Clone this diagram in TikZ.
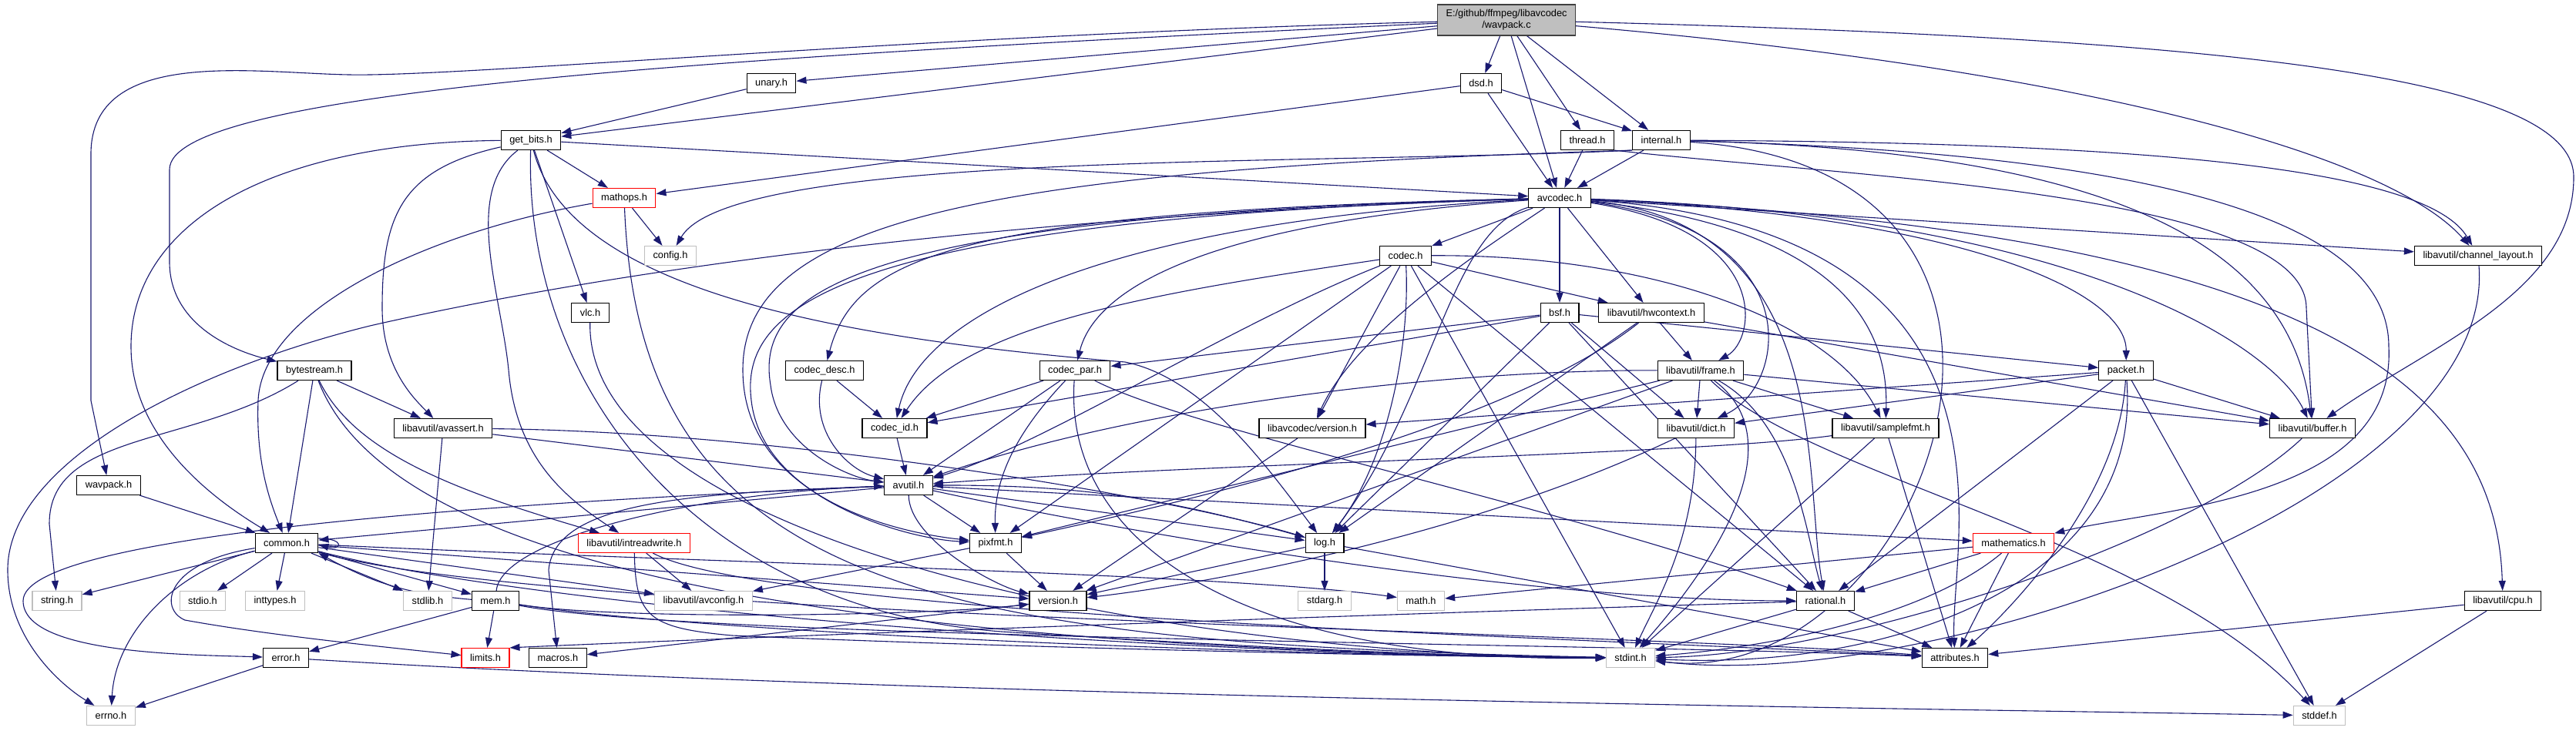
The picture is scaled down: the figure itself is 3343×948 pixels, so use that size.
\documentclass[tikz,border=0pt]{standalone}
\usepackage{fontspec}
\newfontfamily\dxfont{Liberation Sans}
\usetikzlibrary{arrows.meta}
\usetikzlibrary{backgrounds}
\definecolor{edgeblue}{HTML}{191970}
\definecolor{sysline}{HTML}{BFBFBF}
\definecolor{mainfill}{HTML}{BFBFBF}
\definecolor{mainline}{HTML}{404040}

\begin{document}
\begin{tikzpicture}[
    x=1pt, y=-1pt,
    hdr/.style={draw=black, line width=1.2pt, fill=white, font=\dxfont\fontsize{12.8}{15}\selectfont,
                minimum height=25pt, inner xsep=11pt, inner ysep=0pt},
    trunc/.style={hdr, draw=red},
    sys/.style={hdr, draw=sysline},
    srcfile/.style={hdr, fill=mainfill, draw=mainline, align=center, minimum height=40pt},
    dep/.style={draw=edgeblue, line width=1.1pt, -{Triangle[length=13pt, width=9pt]}}
]

\useasboundingbox (0,0) rectangle (3343,948);

% --- Source file ---
\node[srcfile] (wavpackc) at (1955,26) {E:/github/ffmpeg/libavcodec\\/wavpack.c};

% --- Level 1 to 3 ---
\node[hdr] (unary) at (1001,108) {unary.h};
\node[hdr] (dsd) at (1922,108) {dsd.h};
\node[hdr] (getbits) at (689,182) {get\_bits.h};
\node[hdr] (thread) at (2060,182) {thread.h};
\node[hdr] (internal) at (2156,182) {internal.h};
\node[trunc] (mathops) at (810,257) {mathops.h};
\node[hdr] (avcodec) at (2024,257) {avcodec.h};

% --- Level 4 to 6 ---
\node[sys] (config) at (870,332) {config.h};
\node[hdr] (codec) at (1824,332) {codec.h};
\node[hdr] (chlayout) at (3216,332) {libavutil/channel\_layout.h};
\node[hdr] (vlc) at (766,406) {vlc.h};
\node[hdr] (bsf) at (2024,406) {bsf.h};
\node[hdr] (hwcontext) at (2143,406) {libavutil/hwcontext.h};
\node[hdr] (bytestream) at (408,481) {bytestream.h};
\node[hdr] (codecdesc) at (1070,481) {codec\_desc.h};
\node[hdr] (codecpar) at (1395,481) {codec\_par.h};
\node[hdr] (frame) at (2207,481) {libavutil/frame.h};
\node[hdr] (packet) at (2759,481) {packet.h};

% --- Level 7 to 8 ---
\node[hdr] (avassert) at (575,556) {libavutil/avassert.h};
\node[hdr] (codecid) at (1161,556) {codec\_id.h};
\node[hdr] (lavcversion) at (1703,556) {libavcodec/version.h};
\node[hdr] (dict) at (2201,556) {libavutil/dict.h};
\node[hdr] (samplefmt) at (2447,556) {libavutil/samplefmt.h};
\node[hdr] (buffer) at (3001,556) {libavutil/buffer.h};
\node[hdr] (wavpackh) at (141,630) {wavpack.h};
\node[hdr] (avutil) at (1179,630) {avutil.h};

% --- Level 9 ---
\node[hdr] (common) at (372,705) {common.h};
\node[trunc] (intreadwrite) at (823,705) {libavutil/intreadwrite.h};
\node[hdr] (pixfmt) at (1292,705) {pixfmt.h};
\node[hdr] (log) at (1719,705) {log.h};
\node[trunc] (mathematics) at (2613,705) {mathematics.h};

% --- Level 10 ---
\node[sys] (stringh) at (74,780) {string.h};
\node[sys] (stdio) at (263,780) {stdio.h};
\node[sys] (inttypes) at (357,780) {inttypes.h};
\node[sys] (stdlib) at (555,780) {stdlib.h};
\node[hdr] (mem) at (643,780) {mem.h};
\node[sys] (avconfig) at (913,780) {libavutil/avconfig.h};
\node[hdr] (version) at (1373,780) {version.h};
\node[sys] (stdarg) at (1719,780) {stdarg.h};
\node[sys] (math) at (1844,780) {math.h};
\node[hdr] (rational) at (2369,780) {rational.h};
\node[hdr] (cpu) at (3248,780) {libavutil/cpu.h};

% --- Level 11 to 12 ---
\node[hdr] (error) at (371,854) {error.h};
\node[trunc] (limits) at (630,854) {limits.h};
\node[hdr] (macros) at (724,854) {macros.h};
\node[sys] (stdint) at (2116,854) {stdint.h};
\node[hdr] (attributes) at (2537,854) {attributes.h};
\node[sys] (errno) at (144,929) {errno.h};
\node[sys] (stddef) at (3010,929) {stddef.h};

\begin{scope}[on background layer]
\fill[white] (0,0) rectangle (3343,948);

% --- wavpack.c ---
\foreach \tgt in {unary,getbits,dsd,avcodec,thread,internal}
    \draw[dep] (wavpackc) -- (\tgt);
\draw[dep] (wavpackc) .. controls (1200,45) and (600,100) .. (453,97) .. controls (330,95) and (118,60) .. (118,200) -- (118,520) -- (wavpackh);
\draw[dep] (wavpackc) .. controls (900,75) and (220,120) .. (220,220) -- (220,340) .. controls (220,420) and (300,455) .. (bytestream);
\draw[dep] (wavpackc) .. controls (2700,90) and (3100,200) .. (chlayout);
\draw[dep] (wavpackc) .. controls (2900,50) and (3340,100) .. (3340,230) .. controls (3340,380) and (3150,450) .. (buffer);

% --- unary.h, dsd.h, thread.h ---
\draw[dep] (unary) -- (getbits);
\foreach \tgt in {mathops,avcodec,internal}
    \draw[dep] (dsd) -- (\tgt);
\draw[dep] (thread) -- (avcodec);
\draw[dep] (thread.south east) .. controls (2400,230) and (2993,250) .. (2993,400) -- (buffer);

% --- internal.h ---
\draw[dep] (internal) -- (avcodec);
\draw[dep] (internal.south west) .. controls (1700,215) and (950,195) .. (config);
\draw[dep] (internal.south west) .. controls (1300,220) and (964,280) .. (964,480) .. controls (964,640) and (1150,690) .. (pixfmt);
\draw[dep] (internal) .. controls (2800,185) and (3150,220) .. (chlayout);
\draw[dep] (internal) .. controls (2700,195) and (2970,300) .. (buffer);
\draw[dep] (internal) .. controls (2850,200) and (3100,300) .. (3100,450) .. controls (3110,650) and (2800,660) .. (mathematics);
\draw[dep] (internal) .. controls (2750,220) and (2500,900) .. (stdint);

% --- get_bits.h ---
\foreach \tgt in {avcodec,mathops,vlc}
    \draw[dep] (getbits) -- (\tgt);
\draw[dep] (getbits) .. controls (740,380) and (1100,440) .. (1460,470) .. controls (1560,490) and (1640,600) .. (log);
\draw[dep] (getbits) .. controls (350,185) and (170,290) .. (170,450) .. controls (170,570) and (280,650) .. (common);
\draw[dep] (getbits) .. controls (520,220) and (496,280) .. (496,400) .. controls (496,480) and (540,520) .. (avassert);
\draw[dep] (getbits) .. controls (600,250) and (650,380) .. (660,480) .. controls (670,600) and (740,650) .. (intreadwrite);
\draw[dep] (getbits) .. controls (680,500) and (900,790) .. (1300,820) .. controls (1700,845) and (1900,852) .. (stdint);

% --- mathops.h ---
\draw[dep] (mathops) -- (config);
\draw[dep] (mathops) .. controls (560,300) and (340,400) .. (335,520) .. controls (332,600) and (350,650) .. (common);
\draw[dep] (mathops) .. controls (830,760) and (1200,835) .. (stdint);

% --- avcodec.h ---
\foreach \tgt in {codec,bsf,hwcontext,chlayout}
    \draw[dep] (avcodec) -- (\tgt);
\draw[dep] (avcodec) .. controls (1300,280) and (800,350) .. (480,423) .. controls (250,480) and (10,600) .. (10,740) .. controls (10,830) and (80,890) .. (errno);
\draw[dep] (avcodec) .. controls (1250,275) and (1110,330) .. (codecdesc);
\draw[dep] (avcodec) .. controls (1100,280) and (980,380) .. (1000,500) .. controls (1010,580) and (1100,620) .. (avutil);
\draw[dep] (avcodec) .. controls (1080,285) and (960,400) .. (975,520) .. controls (990,650) and (1180,700) .. (pixfmt);
\draw[dep] (avcodec) .. controls (1400,290) and (1190,420) .. (codecid);
\draw[dep] (avcodec) .. controls (1550,290) and (1420,380) .. (codecpar);
\draw[dep] (avcodec) .. controls (1880,300) and (1860,520) .. (log);
\draw[dep] (avcodec) .. controls (1930,320) and (1760,430) .. (lavcversion);
\draw[dep] (avcodec) .. controls (2300,300) and (2280,440) .. (frame);
\draw[dep] (avcodec) .. controls (2350,300) and (2320,500) .. (dict);
\draw[dep] (avcodec) .. controls (2420,300) and (2450,450) .. (samplefmt);
\draw[dep] (avcodec) .. controls (2380,290) and (2340,620) .. (rational);
\draw[dep] (avcodec) .. controls (2650,300) and (2530,700) .. (attributes);
\draw[dep] (avcodec) .. controls (2700,280) and (2950,450) .. (buffer);
\draw[dep] (avcodec) .. controls (3000,300) and (3240,500) .. (cpu);
\draw[dep] (avcodec) .. controls (2550,280) and (2760,380) .. (packet);

% --- codec.h ---
\foreach \tgt in {hwcontext,lavcversion,pixfmt,stdint,rational}
    \draw[dep] (codec) -- (\tgt);
\draw[dep] (codec) .. controls (1500,380) and (1250,420) .. (codecid);
\draw[dep] (codec) .. controls (1600,420) and (1350,580) .. (avutil);
\draw[dep] (codec) .. controls (1830,450) and (1800,600) .. (log);
\draw[dep] (codec) .. controls (2150,330) and (2380,420) .. (samplefmt);

% --- bsf.h, hwcontext.h ---
\foreach \tgt in {codecpar,packet,dict,log,rational,codecid}
    \draw[dep] (bsf) -- (\tgt);
\foreach \tgt in {frame,buffer,log}
    \draw[dep] (hwcontext) -- (\tgt);
\draw[dep] (hwcontext) .. controls (1950,560) and (1500,660) .. (pixfmt);

% --- channel_layout.h, vlc.h ---
\draw[dep] (chlayout) .. controls (3240,650) and (2500,900) .. (stdint);
\draw[dep] (vlc) .. controls (760,700) and (1500,850) .. (stdint);

% --- bytestream.h ---
\foreach \tgt in {common,avassert}
    \draw[dep] (bytestream) -- (\tgt);
\draw[dep] (bytestream) .. controls (250,580) and (64,560) .. (64,680) -- (stringh);
\draw[dep] (bytestream) .. controls (460,590) and (600,640) .. (intreadwrite);
\draw[dep] (bytestream) .. controls (500,720) and (1000,840) .. (stdint);

% --- codec_desc.h, codec_par.h ---
\draw[dep] (codecdesc) .. controls (1050,560) and (1100,610) .. (avutil);
\draw[dep] (codecdesc) -- (codecid);
\foreach \tgt in {codecid,avutil}
    \draw[dep] (codecpar) -- (\tgt);
\draw[dep] (codecpar) .. controls (1320,560) and (1290,620) .. (pixfmt);
\draw[dep] (codecpar) .. controls (1550,560) and (2000,650) .. (rational);
\draw[dep] (codecpar) .. controls (1380,700) and (1600,860) .. (stdint);

% --- frame.h ---
\foreach \tgt in {dict,samplefmt,buffer,pixfmt,version}
    \draw[dep] (frame) -- (\tgt);
\draw[dep] (frame) .. controls (1900,480) and (1500,520) .. (avutil);
\draw[dep] (frame) .. controls (2330,550) and (2345,700) .. (rational);
\draw[dep] (frame) .. controls (2340,580) and (2200,760) .. (stdint);
\draw[dep] (frame) .. controls (2350,620) and (2800,700) .. (stddef);

% --- packet.h ---
\foreach \tgt in {buffer,dict,lavcversion,rational,stddef}
    \draw[dep] (packet) -- (\tgt);
\draw[dep] (packet) .. controls (2750,650) and (2600,800) .. (attributes);
\draw[dep] (packet) .. controls (2780,760) and (2450,870) .. (stdint);

% --- avassert.h, codec_id.h, libavcodec/version.h ---
\foreach \tgt in {stdlib,avutil}
    \draw[dep] (avassert) -- (\tgt);
\draw[dep] (avassert) .. controls (1000,560) and (1500,640) .. (log);
\draw[dep] (codecid) -- (avutil);
\draw[dep] (lavcversion) -- (version);

% --- dict.h, samplefmt.h, buffer.h ---
\draw[dep] (dict) .. controls (1900,700) and (1550,760) .. (version);
\draw[dep] (dict) .. controls (2200,700) and (2150,780) .. (stdint);
\draw[dep] (samplefmt) .. controls (2200,590) and (1600,600) .. (avutil);
\foreach \tgt in {stdint,attributes}
    \draw[dep] (samplefmt) -- (\tgt);
\draw[dep] (buffer) .. controls (2850,700) and (2400,850) .. (stdint);

% --- wavpack.h, avutil.h ---
\draw[dep] (wavpackh) -- (common);
\foreach \tgt in {common,mathematics,log,pixfmt}
    \draw[dep] (avutil) -- (\tgt);
\draw[dep] (avutil) .. controls (1500,700) and (2000,780) .. (rational);
\draw[dep] (avutil) .. controls (700,650) and (30,690) .. (30,780) .. controls (30,850) and (250,850) .. (error);
\draw[dep] (avutil) .. controls (900,640) and (720,650) .. (712,740) -- (macros);
\draw[dep] (avutil) .. controls (1180,700) and (1290,760) .. (version);

% --- common.h ---
\foreach \tgt in {stringh,stdio,inttypes,stdlib,mem,version,avconfig}
    \draw[dep] (common) -- (\tgt);
\draw[dep] ([yshift=6pt]common.east) .. controls +(35,0) and +(30,8) .. ([yshift=-2pt]common.east);
\draw[dep] (common) .. controls (900,730) and (1600,745) .. (math);
\draw[dep] (common) .. controls (230,740) and (150,820) .. (errno);
\draw[dep] (common) .. controls (215,730) and (205,790) .. (240,805) .. controls (350,825) and (500,840) .. (limits);
\draw[dep] (common) .. controls (700,790) and (1500,850) .. (stdint);
\draw[dep] (common) .. controls (700,800) and (2100,820) .. (attributes);

% --- intreadwrite.h, pixfmt.h, log.h ---
\draw[dep] (intreadwrite) -- (avconfig);
\draw[dep] (intreadwrite) .. controls (825,800) and (840,815) .. (950,825) .. controls (1300,840) and (1800,852) .. (stdint);
\draw[dep] (intreadwrite) .. controls (1000,800) and (2100,830) .. (attributes);
\foreach \tgt in {avconfig,version}
    \draw[dep] (pixfmt) -- (\tgt);
\foreach \tgt in {stdarg,version,attributes}
    \draw[dep] (log) -- (\tgt);
\draw[dep] (log) to[bend right=8] (avutil);

% --- mathematics.h, rational.h ---
\foreach \tgt in {math,rational,attributes}
    \draw[dep] (mathematics) -- (\tgt);
\draw[dep] (mathematics) .. controls (2500,800) and (2300,840) .. (stdint);
\foreach \tgt in {stdint,attributes}
    \draw[dep] (rational) -- (\tgt);
\draw[dep] (rational) .. controls (1700,800) and (900,830) .. (limits.north east);

% --- mem.h, version.h ---
\foreach \tgt in {error,limits}
    \draw[dep] (mem) -- (\tgt);
\draw[dep] (mem) to[bend left=12] (common.south east);
\draw[dep] (mem) .. controls (650,700) and (900,640) .. (avutil);
\draw[dep] (mem) .. controls (800,805) and (1200,800) .. (version);
\draw[dep] (mem) .. controls (900,820) and (1600,850) .. (stdint);
\draw[dep] (mem) .. controls (900,830) and (2100,835) .. (attributes);
\draw[dep] (version) -- (macros);

% --- error.h, cpu.h ---
\draw[dep] (error) -- (errno);
\draw[dep] (error) .. controls (1200,905) and (2500,920) .. (stddef);
\foreach \tgt in {stddef,attributes}
    \draw[dep] (cpu) -- (\tgt);
\end{scope}

\end{tikzpicture}
\end{document}
